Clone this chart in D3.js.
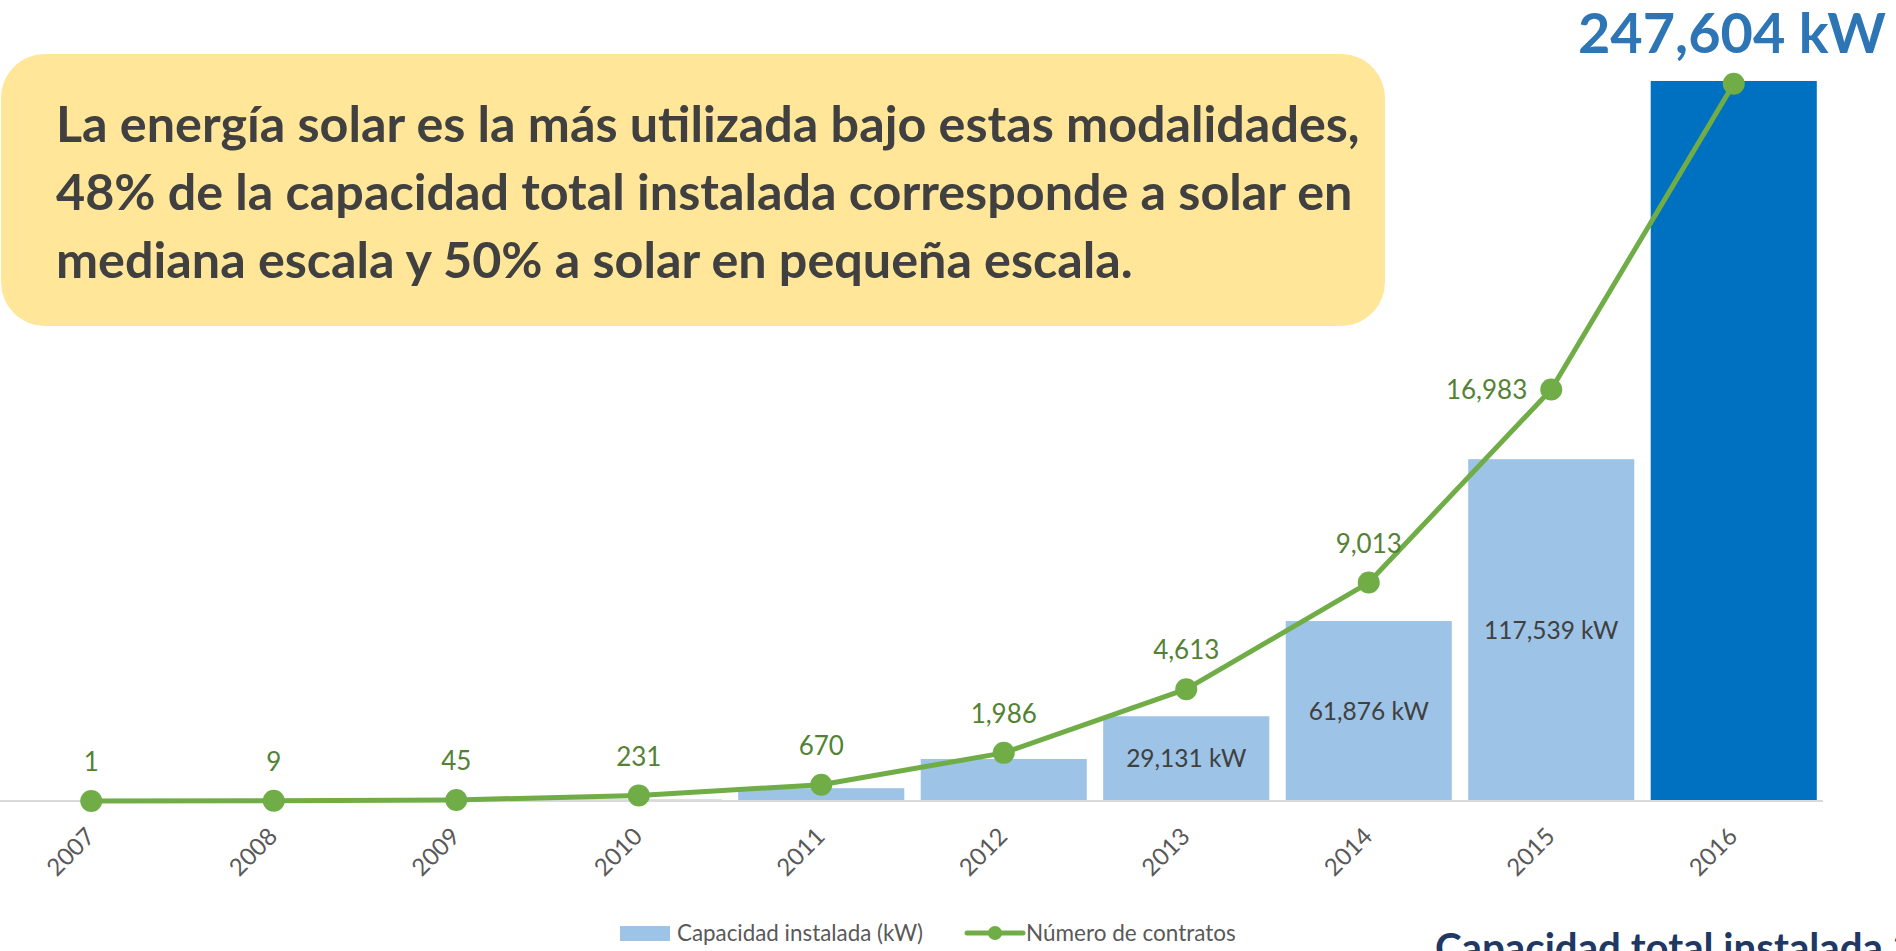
<!DOCTYPE html>
<html>
<head>
<meta charset="utf-8">
<script src="https://cdn.jsdelivr.net/npm/d3@7"></script>
<style>
  html, body { margin: 0; padding: 0; background: #ffffff; overflow: hidden; }
  svg { display: block; }
</style>
</head>
<body>
<svg id="chart" width="1896" height="951"></svg>
<script>
// ---------- data ----------
const years = ["2007", "2008", "2009", "2010", "2011", "2012", "2013", "2014", "2015", "2016"];
const capacityKW = [2, 10, 60, 500, 4400, 14450, 29131, 61876, 117539, 247604];
const contracts = [1, 9, 45, 231, 670, 1986, 4613, 9013, 16983, 29600];
const capacityLabels = ["", "", "", "", "", "", "29,131 kW", "61,876 kW", "117,539 kW", ""];
const contractLabels = ["1", "9", "45", "231", "670", "1,986", "4,613", "9,013", "16,983", ""];
const contractLabelSide = ["top", "top", "top", "top", "top", "top", "top", "top", "left", "none"];
const headline = "247,604 kW";
const calloutLines = [
  "La energía solar es la más utilizada bajo estas modalidades,",
  "48% de la capacidad total instalada corresponde a solar en",
  "mediana escala y 50% a solar en pequeña escala."
];
const legendItems = ["Capacidad instalada (kW)", "Número de contratos"];
const footerTitle = "Capacidad total instalada 2016";

// ---------- setup ----------
const svg = d3.select("#chart");
const FONT = "Lato, 'Open Sans', sans-serif";

const x = d3.scaleBand().domain(years).range([0, 1825]).paddingInner(0.09).paddingOuter(0.045);
const yCap = d3.scaleLinear().domain([0, 250000]).range([801, 74]);
const yCon = d3.scaleLinear().domain([0, 30000]).range([801, 74]);

function fitWidth(sel, target) {
  const node = sel.node();
  const fs = parseFloat(sel.attr("font-size"));
  const w = node.getComputedTextLength();
  sel.attr("font-size", (fs * target / w).toFixed(2));
}

// ---------- callout box ----------
svg.append("rect")
  .attr("x", 1).attr("y", 54).attr("width", 1384).attr("height", 272)
  .attr("rx", 44).attr("ry", 44)
  .attr("fill", "#FFE699");

const cl = svg.append("g");
const t0 = cl.append("text").attr("x", 56).attr("y", 142)
  .attr("font-family", FONT).attr("font-weight", 700).attr("font-size", 48)
  .attr("fill", "#404040").text(calloutLines[0]);
fitWidth(t0, 1304);
const cfs = t0.attr("font-size");
calloutLines.slice(1).forEach((l, i) => {
  cl.append("text").attr("x", 56).attr("y", 142 + (i + 1) * 68)
    .attr("font-family", FONT).attr("font-weight", 700).attr("font-size", cfs)
    .attr("fill", "#404040").text(l);
});

// ---------- bars ----------
svg.append("g").selectAll("rect").data(years).join("rect")
  .attr("x", d => x(d))
  .attr("width", x.bandwidth())
  .attr("y", (d, i) => yCap(capacityKW[i]))
  .attr("height", (d, i) => yCap(0) - yCap(capacityKW[i]))
  .attr("fill", (d, i) => i === years.length - 1 ? "#0070C0" : "#9DC3E6");

// axis line
svg.append("line").attr("x1", 0).attr("x2", 1823).attr("y1", 801).attr("y2", 801)
  .attr("stroke", "#D9D9D9").attr("stroke-width", 2);

// bar labels
svg.append("g").selectAll("text").data(years).join("text")
  .attr("x", d => x(d) + x.bandwidth() / 2)
  .attr("y", (d, i) => (yCap(capacityKW[i]) + yCap(0)) / 2)
  .attr("dy", "0.35em")
  .attr("text-anchor", "middle")
  .attr("font-family", FONT).attr("font-size", 24.5)
  .attr("fill", "#404040")
  .text((d, i) => capacityLabels[i]);

// ---------- line ----------
const line = d3.line()
  .x((d, i) => x(years[i]) + x.bandwidth() / 2)
  .y(d => yCon(d));
svg.append("path").datum(contracts)
  .attr("d", line)
  .attr("fill", "none").attr("stroke", "#70AD47").attr("stroke-width", 5)
  .attr("stroke-linejoin", "round").attr("stroke-linecap", "round");
svg.append("g").selectAll("circle").data(contracts).join("circle")
  .attr("cx", (d, i) => x(years[i]) + x.bandwidth() / 2)
  .attr("cy", d => yCon(d))
  .attr("r", 11)
  .attr("fill", "#70AD47");

svg.append("g").selectAll("text").data(contracts).join("text")
  .attr("x", (d, i) => {
    const cx = x(years[i]) + x.bandwidth() / 2;
    return contractLabelSide[i] === "left" ? cx - 24 : cx;
  })
  .attr("y", (d, i) => contractLabelSide[i] === "left" ? yCon(d) : yCon(d) - 39)
  .attr("dy", "0.35em")
  .attr("text-anchor", (d, i) => contractLabelSide[i] === "left" ? "end" : "middle")
  .attr("font-family", FONT).attr("font-size", 26)
  .attr("fill", "#548235")
  .text((d, i) => contractLabels[i]);

// ---------- x axis labels ----------
svg.append("g").selectAll("text").data(years).join("text")
  .attr("transform", d => `translate(${x(d) + x.bandwidth() / 2 + 5},${838}) rotate(-45)`)
  .attr("text-anchor", "end")
  .attr("font-family", FONT).attr("font-size", 24)
  .attr("fill", "#595959")
  .text(d => d);

// ---------- headline ----------
const hl = svg.append("text").attr("x", 1578).attr("y", 53)
  .attr("font-family", FONT).attr("font-weight", 700).attr("font-size", 56)
  .attr("fill", "#2E75B6").text(headline);
fitWidth(hl, 308);

// ---------- legend ----------
const lg = svg.append("g");
lg.append("rect").attr("x", 620).attr("y", 926).attr("width", 50).attr("height", 15).attr("fill", "#9DC3E6");
const lt1 = lg.append("text").attr("x", 677).attr("y", 933).attr("dy", "0.35em")
  .attr("font-family", FONT).attr("font-size", 20).attr("fill", "#595959").text(legendItems[0]);
fitWidth(lt1, 246);
lg.append("line").attr("x1", 967).attr("x2", 1023).attr("y1", 933).attr("y2", 933)
  .attr("stroke", "#70AD47").attr("stroke-width", 5).attr("stroke-linecap", "round");
lg.append("circle").attr("cx", 995).attr("cy", 933).attr("r", 7).attr("fill", "#70AD47");
const lt2 = lg.append("text").attr("x", 1026).attr("y", 933).attr("dy", "0.35em")
  .attr("font-family", FONT).attr("font-size", 20).attr("fill", "#595959").text(legendItems[1]);
fitWidth(lt2, 210);

// ---------- footer title (cut off by page edge, as in the source) ----------
const ft = svg.append("text").attr("x", 1435).attr("y", 962)
  .attr("font-family", FONT).attr("font-weight", 700).attr("font-size", 34)
  .attr("fill", "#1F3864");
ft.append("tspan").text("Capacidad total instalada");
fitWidth(ft, 448);
ft.append("tspan").text(" " + footerTitle.split(" ").slice(-1)[0]);
</script>
</body>
</html>
